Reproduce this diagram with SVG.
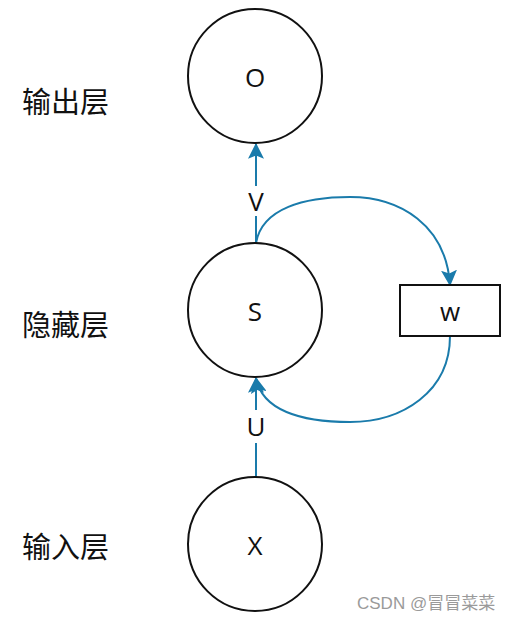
<svg xmlns="http://www.w3.org/2000/svg" width="509" height="620" viewBox="0 0 509 620">
<style>
.node{fill:#fff;stroke:#111;stroke-width:2}
.lbl{font-family:"Open Sans","Liberation Sans",sans-serif;font-size:26px;font-weight:500;fill:#111;text-anchor:middle;dominant-baseline:central}
.cn{font-family:"Noto Sans CJK SC",sans-serif;font-size:29px;fill:#111;dominant-baseline:central}
.edge{fill:none;stroke:#1a7bab;stroke-width:2}
.wm{font-family:"Liberation Sans","Noto Sans CJK SC",sans-serif;font-size:17px;fill:#9a9a9a}
</style>
<defs>
<marker id="ah" markerWidth="16" markerHeight="16" refX="13" refY="7" orient="auto" markerUnits="userSpaceOnUse" viewBox="0 0 14 14">
<path d="M0,0 L14,7 L0,14 L3,7 Z" fill="#1a7bab"/>
</marker>
</defs>
<rect width="509" height="620" fill="#fff"/>
<g id="connectors">
<line class="edge" x1="256" y1="186" x2="256" y2="144" marker-end="url(#ah)"/>
<line class="edge" x1="256" y1="243" x2="256" y2="216"/>
<path class="edge" d="M256,243 C262,208 305,197 350,197 C400,197 446,225 450,285" marker-end="url(#ah)"/>
<path class="edge" d="M450,336 C450,392 402,422 350,422 C300,422 262,410 256,378" marker-end="url(#ah)"/>
<line class="edge" x1="256" y1="410" x2="256" y2="378" marker-end="url(#ah)"/>
<line class="edge" x1="256" y1="477" x2="256" y2="443"/>
<text class="lbl" x="256" y="201">V</text>
<text class="lbl" x="256" y="426">U</text>
</g>
<g id="node-O">
<circle class="node" cx="255" cy="76" r="67"/>
<text class="lbl" x="255" y="77">O</text>
</g>
<g id="node-S">
<circle class="node" cx="255" cy="310" r="67"/>
<text class="lbl" x="255" y="311">S</text>
</g>
<g id="node-X">
<circle class="node" cx="255" cy="544" r="67"/>
<text class="lbl" x="255" y="545">X</text>
</g>
<g id="node-w">
<rect class="node" x="400" y="285" width="100" height="51"/>
<text class="lbl" x="450" y="311">w</text>
</g>
<g id="labels">
<text class="cn" x="22" y="100">输出层</text>
<text class="cn" x="22" y="323">隐藏层</text>
<text class="cn" x="22" y="545">输入层</text>
</g>
<text class="wm" x="357" y="609">CSDN @冒冒菜菜</text>
</svg>
